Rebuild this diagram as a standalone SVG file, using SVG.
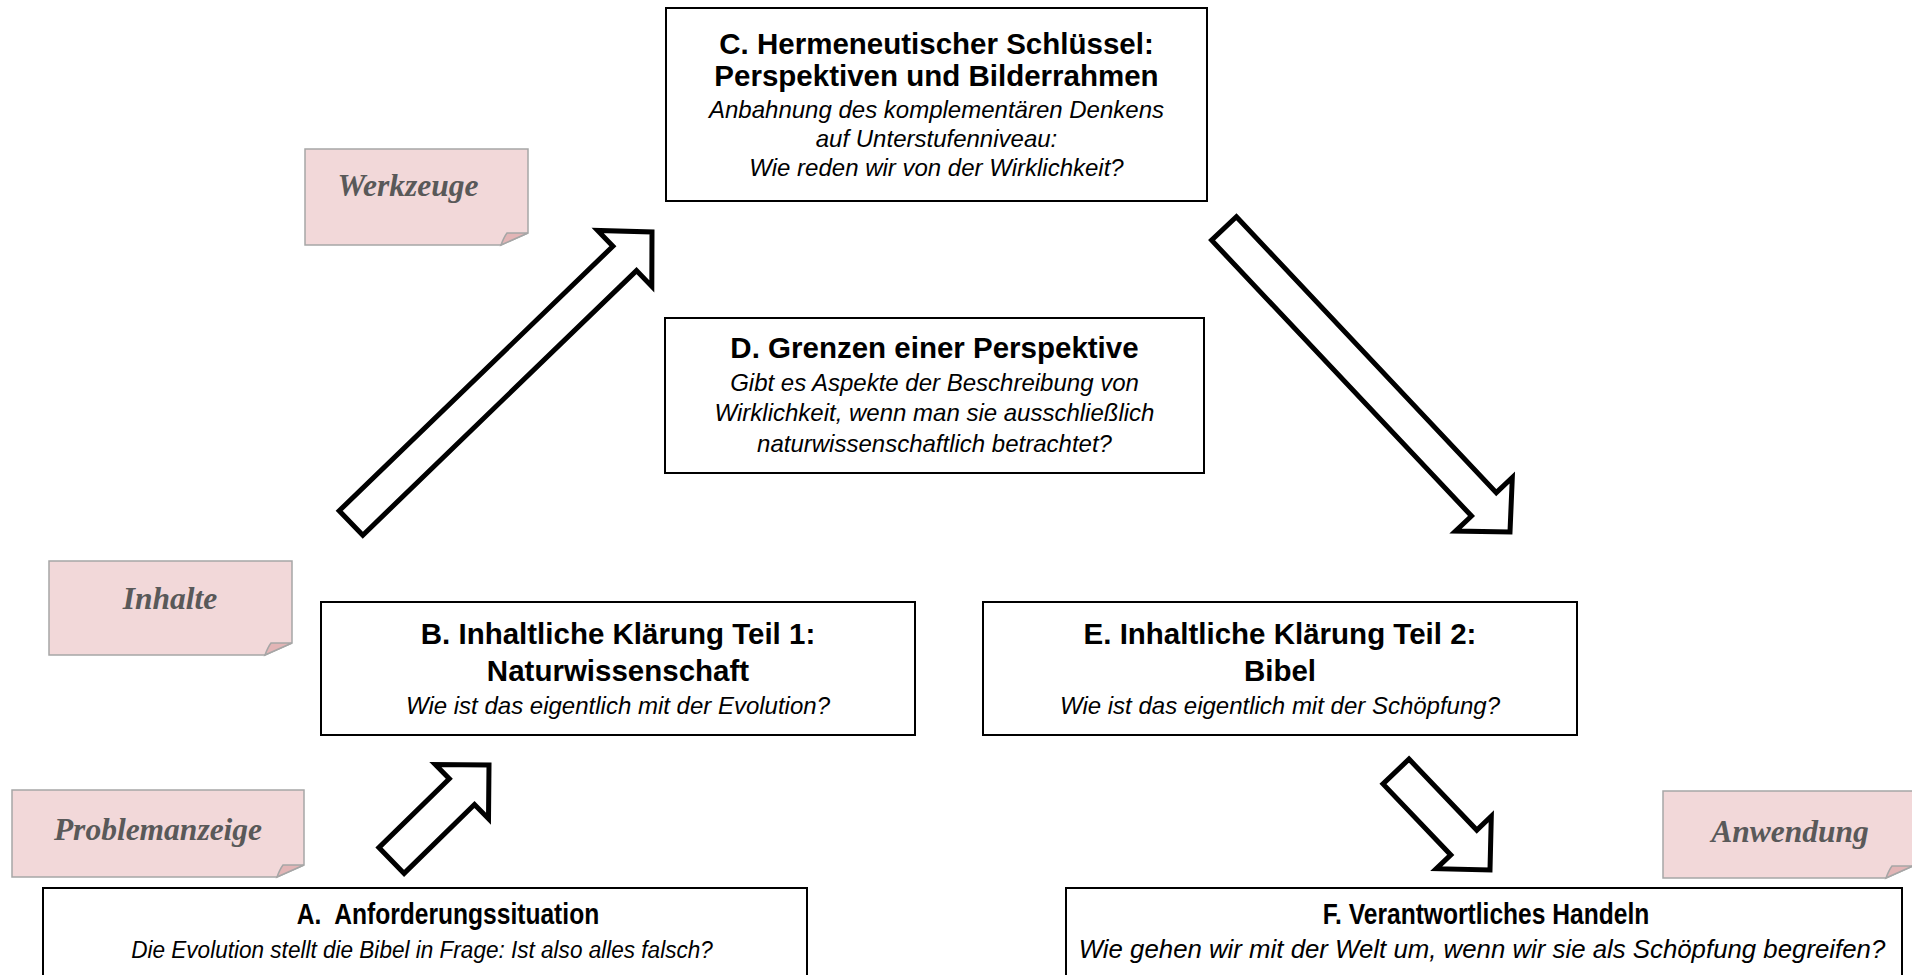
<svg xmlns="http://www.w3.org/2000/svg" width="1912" height="975" viewBox="0 0 1912 975">
<style>
.box{fill:#fff;stroke:#000;stroke-width:2}
.t{font-family:"Liberation Sans",Arial,sans-serif;font-weight:bold;fill:#000;text-anchor:middle}
.s{font-family:"Liberation Sans",Arial,sans-serif;font-style:italic;fill:#000;text-anchor:middle}
.big{font-size:29.5px}
.mid{font-size:30px}
.it{font-size:24px}
.itA{font-size:24px}
.itF{font-size:25.8px}
.note{fill:#f2d8d9;stroke:#a6a6a6;stroke-width:1.5}
.fold{fill:#e2b5b6;stroke:#a6a6a6;stroke-width:1.5}
.nt{font-family:"Liberation Serif","Times New Roman",serif;font-weight:bold;font-style:italic;font-size:31.5px;fill:#595959;text-anchor:middle}
.arr{fill:#fff;stroke:#000;stroke-width:5;stroke-linejoin:miter}
</style>
<rect width="1912" height="975" fill="#fff"/>

<g id="connectors">
<polygon class="arr" points="339.2,510.8 612.9,246.2 597.6,230.4 652,232 651.8,286.4 636.5,270.6 362.8,535.2"/>
<polygon class="arr" points="1236.4,216.8 1496.3,492.6 1512.3,477.5 1510,532 1455.5,531.1 1471.5,516 1211.6,240.2"/>
<polygon class="arr" points="378.9,847.6 449.3,778.7 435.3,764.5 489,765 488.5,818.7 474.5,804.5 404.1,873.4"/>
<polygon class="arr" points="1409,759.1 1476.8,830.1 1491.3,816.3 1490,870 1436.3,868.7 1450.8,854.9 1383,783.9"/>
</g>

<g id="noteWerkzeuge">
<path class="note" d="M305,149 H528 V233 L501,245 H305 Z"/>
<path class="fold" d="M501,245 Q504,237 507,233 H528 Z"/>
<text class="nt" x="408" y="196">Werkzeuge</text>
</g>
<g id="noteInhalte">
<path class="note" d="M49,561 H292 V643 L265,655 H49 Z"/>
<path class="fold" d="M265,655 Q268,647 271,643 H292 Z"/>
<text class="nt" x="170" y="609">Inhalte</text>
</g>
<g id="noteProblemanzeige">
<path class="note" d="M12,790 H304 V865 L277,877 H12 Z"/>
<path class="fold" d="M277,877 Q280,869 283,865 H304 Z"/>
<text class="nt" x="158" y="840">Problemanzeige</text>
</g>
<g id="noteAnwendung">
<path class="note" d="M1663,791 H1913 V866 L1886,878 H1663 Z"/>
<path class="fold" d="M1886,878 Q1889,870 1892,866 H1913 Z"/>
<text class="nt" x="1790" y="842">Anwendung</text>
</g>

<g id="nodeC">
<rect class="box" x="666" y="8" width="541" height="193"/>
<text class="t big" x="936.5" y="54">C. Hermeneutischer Schlüssel:</text>
<text class="t big" x="936.5" y="86">Perspektiven und Bilderrahmen</text>
<text class="s it" x="936.5" y="118">Anbahnung des komplementären Denkens</text>
<text class="s it" x="936.5" y="147">auf Unterstufenniveau:</text>
<text class="s it" x="936.5" y="176">Wie reden wir von der Wirklichkeit?</text>
</g>

<g id="nodeD">
<rect class="box" x="665" y="318" width="539" height="155"/>
<text class="t big" x="934.5" y="358">D. Grenzen einer Perspektive</text>
<text class="s it" x="934.5" y="391">Gibt es Aspekte der Beschreibung von</text>
<text class="s it" x="934.5" y="421">Wirklichkeit, wenn man sie ausschließlich</text>
<text class="s it" x="934.5" y="452">naturwissenschaftlich betrachtet?</text>
</g>

<g id="nodeB">
<rect class="box" x="321" y="602" width="594" height="133"/>
<text class="t big" x="618" y="644">B. Inhaltliche Klärung Teil 1:</text>
<text class="t big" x="618" y="681">Naturwissenschaft</text>
<text class="s it" x="618" y="714">Wie ist das eigentlich mit der Evolution?</text>
</g>

<g id="nodeE">
<rect class="box" x="983" y="602" width="594" height="133"/>
<text class="t big" x="1280" y="644">E. Inhaltliche Klärung Teil 2:</text>
<text class="t big" x="1280" y="681">Bibel</text>
<text class="s it" x="1280" y="714">Wie ist das eigentlich mit der Schöpfung?</text>
</g>

<g id="nodeA">
<rect class="box" x="43" y="888" width="764" height="120"/>
<text class="t mid" transform="translate(448,924) scale(0.82,1)" xml:space="preserve">A.  Anforderungssituation</text>
<text class="s itA" transform="translate(422,958) scale(0.94,1)">Die Evolution stellt die Bibel in Frage: Ist also alles falsch?</text>
</g>

<g id="nodeF">
<rect class="box" x="1066" y="888" width="836" height="120"/>
<text class="t mid" transform="translate(1486,924) scale(0.82,1)">F. Verantwortliches Handeln</text>
<text class="s itF" x="1482" y="958">Wie gehen wir mit der Welt um, wenn wir sie als Schöpfung begreifen?</text>
</g>
</svg>
